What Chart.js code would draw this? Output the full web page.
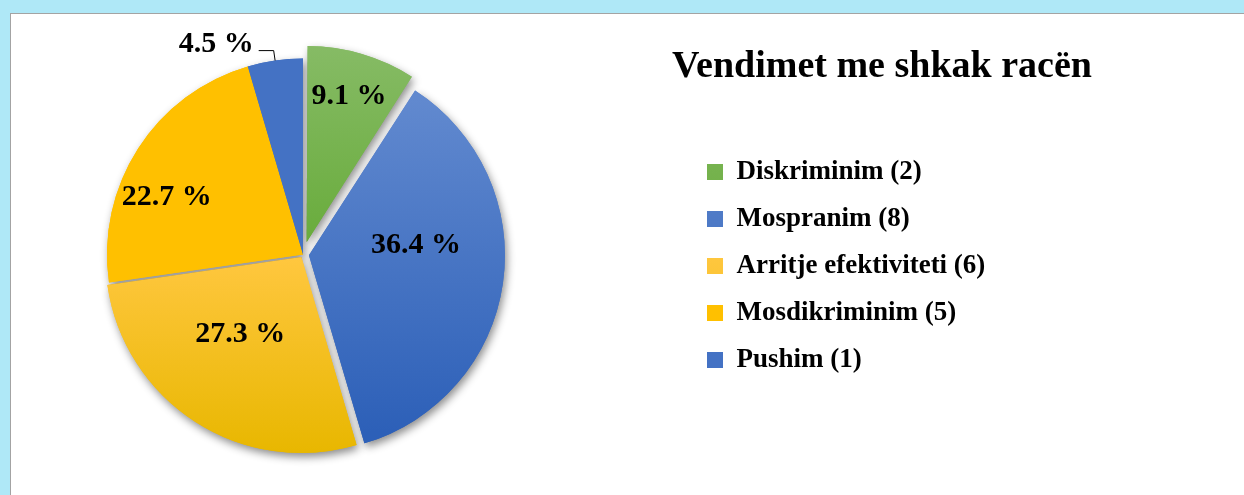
<!DOCTYPE html>
<html lang="sq">
<head>
<meta charset="utf-8">
<title>Vendimet me shkak racën</title>
<script src="https://cdn.jsdelivr.net/npm/chart.js@4.4.1/dist/chart.umd.min.js"></script>
<style>
    html, body { margin: 0; padding: 0; }
    body { width: 1244px; height: 495px; overflow: hidden; position: relative; background: #afe8f7; }
    #paneli { position: absolute; left: 10px; top: 13px; width: 1260px; height: 500px; background: #fff; border: 1px solid #a3a3a3; }
    #grafiku { position: absolute; left: -81px; top: 14px; }
</style>
</head>
<body>
<div id="paneli"></div>
<canvas id="grafiku" width="1325" height="481"></canvas>
<script>
const titulli = 'Vendimet me shkak racën';
const kategorite = ['Diskriminim', 'Mospranim', 'Arritje efektiviteti', 'Mosdikriminim', 'Pushim'];
const vendimet = [2, 8, 6, 5, 1];

const germat = '"Liberation Serif", "Times New Roman", serif';
const RREZJA = 196;

// sa pixel del jashte cdo fete (Chart.js e ndan offset-in me 4 kur vizaton)
const zhvendosjet = [13, 6, 3, 0, 0];

// ngjyra baze + gradient vertikal mbi gjithe piten (lart -> poshte)
const ngjyrat = [
    {baza: '#70ad47', gradient: [[0, '#86bb65'], [0.5, '#69ac3c']]},
    {baza: '#4472c4', gradient: [[0.1, '#6189cf'], [0.95, '#2d60b8']]},
    {baza: '#ffc000', gradient: [[0.5, '#ffc73f'], [1, '#e8b700']]},
    {baza: '#ffc000', gradient: null},
    {baza: '#4472c4', gradient: null}
];

// ku vendoset etiketa: r = pjese e rrezes, t = pjese e kendit te fetes
const etiketat = [
    {r: 0.79, t: 0.486},
    {r: 0.55, t: 0.385},
    {r: 0.49, t: 0.57},
    {r: 0.76, t: 0.39},
    {jashte: true}
];

function mbushja(konteksti) {
    const i = konteksti.dataIndex;
    if (i === undefined) return '#4472c4';
    const ng = ngjyrat[i];
    const chart = konteksti.chart;
    const zona = chart.chartArea;
    if (!ng.gradient || !zona) return ng.baza;
    const cy = (zona.top + zona.bottom) / 2;
    const g = chart.ctx.createLinearGradient(0, cy - RREZJA, 0, cy + RREZJA);
    ng.gradient.forEach(([p, c]) => g.addColorStop(p, c));
    return g;
}

// legjenda me gjeresi fikse, qe titulli dhe kutite te bien ne vendin e duhur;
// titulli eshte me i gjere se kutia, prandaj pa clip
const gjeresiaLegjendes = {
    id: 'gjeresiaLegjendes',
    beforeUpdate(chart) {
        const legjenda = chart.legend;
        if (legjenda && !legjenda._mbeshtjellur) {
            const fitOrig = legjenda.fit;
            legjenda.fit = function () {
                fitOrig.call(this);
                this.width = 390;
            };
            legjenda.draw = function () {
                if (this.options.display) {
                    this._draw();
                }
            };
            legjenda._mbeshtjellur = true;
        }
    }
};

const etiketatPerqindje = {
    id: 'etiketatPerqindje',
    afterDatasetUpdate(chart, args) {
        // offset-i i Chart.js e zmadhon rrezen e feteve te vogla, e kthejme mbrapsht
        args.meta.data.forEach((hark) => {
            const zh = (hark.options.offset || 0) / 4;
            const fix = 1 - Math.sin(Math.min(Math.PI, hark.circumference));
            hark.outerRadius -= zh * fix;
        });
    },
    beforeDatasetsDraw(chart) {
        const ctx = chart.ctx;
        ctx.save();
        ctx.shadowColor = 'rgba(0, 0, 0, 0.45)';
        ctx.shadowBlur = 9;
        ctx.shadowOffsetX = 2;
        ctx.shadowOffsetY = 4;
        chart.getDatasetMeta(0).data.forEach((hark) => hark.draw(ctx));
        ctx.restore();
    },
    afterDatasetsDraw(chart) {
        const ctx = chart.ctx;
        const meta = chart.getDatasetMeta(0);
        const totali = vendimet.reduce((a, b) => a + b, 0);

        ctx.save();
        ctx.font = 'bold 30px ' + germat;
        ctx.fillStyle = '#000';
        ctx.strokeStyle = '#000';
        ctx.lineWidth = 1;

        meta.data.forEach((hark, i) => {
            const teksti = (vendimet[i] / totali * 100).toFixed(1) + ' %';
            const {x, y, startAngle, endAngle} = hark;
            const r = RREZJA;
            const mesi = (startAngle + endAngle) / 2;
            const zh = (hark.options.offset || 0) / 4;
            const qx = x + Math.cos(mesi) * zh;
            const qy = y + Math.sin(mesi) * zh;
            const e = etiketat[i];

            if (e.jashte) {
                const x0 = qx + Math.cos(mesi) * r;
                const y0 = qy + Math.sin(mesi) * r;
                const x1 = qx + Math.cos(mesi) * (r + 10);
                const y1 = qy + Math.sin(mesi) * (r + 10);
                const x2 = x1 - 15;
                ctx.beginPath();
                ctx.moveTo(x0, y0);
                ctx.lineTo(x1, y1);
                ctx.lineTo(x2, y1);
                ctx.stroke();
                ctx.textAlign = 'right';
                ctx.textBaseline = 'alphabetic';
                ctx.fillText(teksti, x2 - 5, y1 + 1);
            } else {
                const kendi = startAngle + e.t * (endAngle - startAngle);
                ctx.textAlign = 'center';
                ctx.textBaseline = 'middle';
                ctx.fillText(teksti, qx + Math.cos(kendi) * r * e.r, qy + Math.sin(kendi) * r * e.r + 3);
            }
        });
        ctx.restore();
    }
};

new Chart(document.getElementById('grafiku'), {
    type: 'pie',
    data: {
        labels: kategorite,
        datasets: [{
            data: vendimet,
            backgroundColor: mbushja,
            borderWidth: 0,
            offset: zhvendosjet.map((z) => z * 4)
        }]
    },
    options: {
        responsive: false,
        animation: false,
        events: [],
        radius: RREZJA,
        layout: {
            padding: {left: 0, right: 167, top: 0, bottom: 0}
        },
        plugins: {
            tooltip: {enabled: false},
            legend: {
                position: 'right',
                align: 'start',
                title: {
                    display: true,
                    text: titulli,
                    color: '#000',
                    position: 'center',
                    font: {family: germat, size: 38, weight: 'bold'},
                    padding: {top: 34.5, bottom: 44.4}
                },
                labels: {
                    color: '#000',
                    boxWidth: 16,
                    boxHeight: 16,
                    padding: 20,
                    font: {family: germat, size: 27, weight: 'bold'},
                    generateLabels(chart) {
                        const baza = Chart.overrides.pie.plugins.legend.labels.generateLabels(chart);
                        return baza.map((el, i) => ({
                            ...el,
                            text: kategorite[i] + ' (' + vendimet[i] + ')',
                            lineWidth: 0,
                            strokeStyle: 'rgba(0,0,0,0)'
                        }));
                    }
                }
            }
        }
    },
    plugins: [gjeresiaLegjendes, etiketatPerqindje]
});
</script>
</body>
</html>
